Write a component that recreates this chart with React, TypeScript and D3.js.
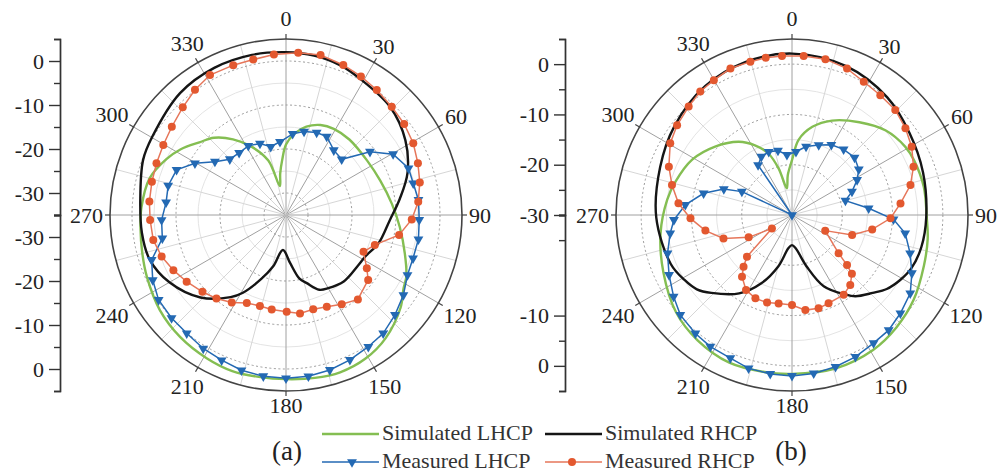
import React, { useEffect, useRef } from "react";
import * as d3 from "d3";

// [angle (deg, clockwise from top), gain (dB)]
// ---- panel (a) ----
const simLhcpA: [number, number][] = [
  [0, -19.0], [6, -16.4], [13, -14.4], [21, -13.1], [29, -12.6], [40, -12.6], [56, -12.8],
  [70, -12.2], [84, -10.8], [96, -9.0], [108, -6.6], [117, -4.3], [122, -3.5], [129, -1.5],
  [141, 1.0], [151, 2.3], [161, 2.8], [170, 2.6], [180, 2.3], [189, 2.3], [199, 2.5],
  [209, 2.2], [221, 1.7], [233, 0.9], [246, -0.4], [255, -1.2], [265, -1.8], [273, -2.1],
  [285, -2.9], [295, -5.0], [302, -6.8], [310, -9.3], [317, -11.0], [325, -14.0],
  [333, -17.5], [342, -22.0], [348, -28.3], [352, -25.5], [356, -22.5],
];
const simRhcpA: [number, number][] = [
  [0, 2.0], [10, 1.8], [20, 1.2], [28, 0.3], [44, -0.9], [58, -3.0], [71, -5.8], [82, -8.9],
  [93, -11.4], [107, -13.0], [117, -14.6], [125, -15.0], [139, -15.0], [150, -15.8],
  [156, -16.4], [163, -18.8], [168, -20.2], [175, -24.0], [185, -27.0], [194, -23.0],
  [201, -19.5], [209, -14.8], [214, -12.5], [226, -8.0], [240, -4.4], [252, -2.4],
  [263, -2.0], [276, -1.7], [291, -0.2], [300, 0.2], [319, 1.7], [334, 2.2], [348, 2.2],
];
const measLhcpA: [number, number][] = [
  [4.7, -16.5], [12.2, -15.6], [20.4, -15.0], [27.4, -14.9], [36.4, -16.7], [45, -17.1],
  [53, -11.1], [60.4, -7.0], [69.1, -5.2], [76, -5.2], [83.5, -4.7], [92.1, -4.7],
  [100.4, -4.4], [108.8, -4.5], [116.3, -4.2], [124.3, -2.7], [132.5, -1.4], [140.6, -0.2],
  [148, 0.3], [156.2, 1.0], [164.2, 1.6], [172.1, 2.0], [180, 2.1], [188, 2.0], [196, 1.7],
  [203.9, 1.1], [211.8, 0.7], [220, 0.1], [228, 0.0], [236.3, -0.2], [244, -1.3],
  [251.5, -2.8], [259.3, -6.4], [267.7, -6.7], [276, -7.6], [284, -7.4], [292.4, -8.1],
  [299.6, -11.2], [306.9, -14.8], [314.8, -17.0], [323, -17.3], [331.4, -17.1], [340, -17.7],
  [347.4, -19.1], [355.3, -18.3],
];
const measRhcpA: [number, number][] = [
  [4.3, 2.0], [12.2, 2.2], [20.9, 1.5], [28.4, 0.8], [36, 0.1], [44.3, -0.6], [52.4, -1.1],
  [60.6, -1.8], [68.6, -2.8], [76.3, -3.7], [84.3, -4.8], [92, -6.4], [100, -8.9],
  [108.6, -13.7], [115.4, -15.5], [123.4, -13.0], [128.3, -11.2], [139.6, -9.8], [148, -11.1],
  [156, -12.2], [163.9, -12.7], [171.9, -12.4], [179.6, -13.0], [188.6, -13.3], [196, -13.5],
  [204, -13.1], [211.8, -11.6], [219.8, -10.3], [227.4, -9.2], [236.1, -7.8], [243.9, -6.5],
  [251.5, -5.2], [259.3, -4.3], [267.9, -4.1], [275.6, -3.8], [283.9, -3.6], [291.8, -3.3],
  [299.7, -2.9], [307.7, -2.2], [316.2, -1.1], [324, 0.2], [331.5, 1.2], [340.6, 1.1],
  [348.1, 1.1], [355.7, 1.6],
];

// ---- panel (b) ----
const simLhcpB: [number, number][] = [
  [0, -19.1], [5, -15.0], [13, -12.0], [23, -9.6], [36, -7.2], [48, -4.9], [59, -3.7],
  [66, -3.4], [78, -3.2], [91, -3.2], [100, -2.6], [111, -1.9], [125, -0.5], [137, 0.5],
  [149, 1.3], [164, 1.7], [180, 1.6], [190, 1.7], [203, 1.9], [217, 1.2], [230, 0.1],
  [246, -2.0], [262, -3.6], [277, -5.0], [286, -5.9], [299, -7.3], [312, -9.6], [324, -12.0],
  [332, -14.3], [339, -16.9], [344, -20.4], [349, -24.6], [354, -22.0],
];
const simRhcpB: [number, number][] = [
  [0, 2.1], [20, 1.5], [39, 0.1], [55, -1.5], [72, -2.6], [91, -3.3], [104, -3.5],
  [114, -4.0], [121, -4.9], [128, -6.1], [134, -7.7], [142, -9.5], [146, -10.9],
  [156, -14.5], [164, -19.3], [174, -23.4], [180, -24.0], [186, -23.4], [195, -19.4],
  [204, -15.2], [214, -11.2], [226, -7.7], [232, -6.0], [239, -5.0], [248, -4.0],
  [269, -3.0], [290, -2.1], [307, -0.7], [326, 0.9], [343, 1.8],
];
const measLhcpB: [number, number][] = [
  [3.6, -17.4], [11.6, -16.1], [20.9, -15.1], [29.3, -14.0], [38.2, -13.4], [47.4, -13.1],
  [55.6, -13.9], [61.7, -15.3], [68.7, -17.2], [75, -19.0], [85, -14.7], [92.4, -9.8],
  [99.2, -7.2], [108, -5.3], [115.9, -3.5], [123.5, -1.8], [132.2, -0.9], [140, -0.1],
  [147.5, 0.2], [155.9, 0.9], [164, 1.4], [172.2, 1.8], [180, 2.0], [187.8, 1.9],
  [195.8, 1.7], [203.3, 1.0], [211.8, 0.8], [219.2, 0.4], [228.2, -0.2], [235.4, -1.4],
  [244, -2.8], [252.9, -4.1], [261.4, -5.5], [267.6, -6.5], [275.4, -8.7], [283.8, -11.9],
  [290.8, -15.5], [295, -19.0], [305, -30], [325.8, -18.0], [332.3, -16.9], [339.8, -16.6],
  [347.7, -16.9], [355.2, -18.0],
];
const measRhcpB: [number, number][] = [
  [4.2, 1.7], [12.1, 1.7], [20.6, 1.1], [28.3, 0.1], [36.4, -0.4], [44.5, -0.7], [52.6, -1.6],
  [60.3, -2.6], [68.3, -4.0], [75.8, -5.7], [83.9, -8.3], [91.9, -10.4], [100.2, -13.8],
  [108.4, -17.4], [115.2, -22.7], [129.4, -18.0], [132.3, -15.2], [134.5, -13.3],
  [140.2, -11.9], [147.1, -11.1], [157.5, -11.0], [164.1, -10.7], [172, -10.9], [180, -12.1],
  [188.6, -12.2], [195.9, -11.9], [203.7, -11.9], [211.5, -12.5], [219, -14.2],
  [223.1, -15.9], [227.2, -17.8], [236.3, -25.2], [242.7, -20.3], [251.1, -15.6],
  [259.8, -12.5], [268.1, -9.8], [275.9, -7.3], [284, -5.4], [291.4, -3.7], [300.5, -1.9],
  [308, -1.0], [316.4, -0.2], [323.4, 0.6], [329.9, 1.0], [337.2, 1.6], [344.8, 1.6],
  [350.5, 1.7], [356.4, 1.7],
];

const angleLabels = d3.range(0, 360, 30);
const legendItems = [
  { label: "Simulated LHCP", key: "simL", marker: "none" },
  { label: "Simulated RHCP", key: "simR", marker: "none" },
  { label: "Measured LHCP", key: "measL", marker: "tri" },
  { label: "Measured RHCP", key: "measR", marker: "dot" },
];

const W = 997;
const H = 473;
const RAD = 176;
const FONT = '"Liberation Serif", "DejaVu Serif", Tinos, "Times New Roman", Times, serif';
const COL: any = { simL: "#84be52", simR: "#151515", measL: "#2369b3", measR: "#e3582f", measRLine: "#e6765a" };
const LW: any = { simL: 2.4, simR: 2.4, measL: 1.5, measR: 1.5 };

const panels = [
  {
    cx: 286, cy: 215, min: -35, axisX: 60, label: "(a)", labelX: 287,
    majorRings: [-30, -20, -10, 0], minorRings: [-25, -15, -5],
    topMajor: [0, -10, -20, -30], topMinor: [-5, -15, -25, -35],
    botMajor: [0, -10, -20, -30], botMinor: [-5, -15, -25],
    simL: simLhcpA, simR: simRhcpA, measL: measLhcpA, measR: measRhcpA,
  },
  {
    cx: 792, cy: 215, min: -30, axisX: 565, label: "(b)", labelX: 791,
    majorRings: [-20, -10, 0], minorRings: [-25, -15, -5],
    topMajor: [0, -10, -20, -30], topMinor: [-5, -15, -25],
    botMajor: [0, -10], botMinor: [-5, -25],
    simL: simLhcpB, simR: simRhcpB, measL: measLhcpB, measR: measRhcpB,
  },
];

const App = () => {
  const svgRef = useRef(null);

  useEffect(() => {
    const svg = d3.select(svgRef.current);
    svg.selectAll("*").remove();
    const rad = (a: number) => (a * Math.PI) / 180;

    panels.forEach((p) => {
      const r = d3.scaleLinear().domain([p.min, 5]).range([0, RAD]).clamp(true);
      const g = svg.append("g").attr("transform", `translate(${p.cx},${p.cy})`);

      // grid
      g.selectAll(".minring")
        .data(p.minorRings)
        .join("circle")
        .attr("r", (d) => r(d))
        .attr("fill", "none")
        .attr("stroke", "#e4e4e4")
        .attr("stroke-width", 1);

      g.selectAll(".spoke")
        .data(d3.range(0, 360, 15))
        .join("line")
        .attr("x1", 0)
        .attr("y1", 0)
        .attr("x2", (d) => RAD * Math.sin(rad(d)))
        .attr("y2", (d) => -RAD * Math.cos(rad(d)))
        .attr("stroke", (d) => (d % 30 === 0 ? "#a0a0a0" : "#d6d6d6"))
        .attr("stroke-width", 1);

      g.selectAll(".majring")
        .data(p.majorRings)
        .join("circle")
        .attr("r", (d) => r(d))
        .attr("fill", "none")
        .attr("stroke", "#9a9a9a")
        .attr("stroke-width", 1)
        .attr("stroke-dasharray", "2,2.5");

      g.append("circle")
        .attr("r", RAD)
        .attr("fill", "none")
        .attr("stroke", "#444")
        .attr("stroke-width", 1.6);

      g.selectAll(".atick")
        .data(angleLabels)
        .join("line")
        .attr("x1", (d) => RAD * Math.sin(rad(d)))
        .attr("y1", (d) => -RAD * Math.cos(rad(d)))
        .attr("x2", (d) => (RAD + 5) * Math.sin(rad(d)))
        .attr("y2", (d) => -(RAD + 5) * Math.cos(rad(d)))
        .attr("stroke", "#444")
        .attr("stroke-width", 1.2);

      const labels = g.selectAll(".alabel")
        .data(angleLabels)
        .join("text")
        .attr("text-anchor", "middle")
        .attr("dominant-baseline", "central")
        .attr("font-family", FONT)
        .attr("font-size", 22)
        .attr("fill", "#222")
        .text((d) => d);
      // keep each label just outside the ring, measured from its own box
      labels.each(function (d) {
        const node = this as SVGTextElement;
        const w = node.getComputedTextLength ? node.getComputedTextLength() : 22;
        const s = Math.sin(rad(d));
        const c = Math.cos(rad(d));
        let rr = 183 + (w / 2) * Math.abs(s) + 7.5 * Math.abs(c);
        if (d === 0) rr += 6;
        d3.select(node).attr("x", rr * s).attr("y", -rr * c);
      });

      // curves
      const smooth = d3
        .lineRadial<[number, number]>()
        .angle((d) => rad(d[0]))
        .radius((d) => r(d[1]))
        .curve(d3.curveCatmullRomClosed.alpha(0.5));
      const straight = d3
        .lineRadial<[number, number]>()
        .angle((d) => rad(d[0]))
        .radius((d) => r(d[1]))
        .curve(d3.curveLinearClosed);

      g.append("path").datum(p.simL).attr("d", smooth).attr("fill", "none")
        .attr("stroke", COL.simL).attr("stroke-width", LW.simL);
      g.append("path").datum(p.simR).attr("d", smooth).attr("fill", "none")
        .attr("stroke", COL.simR).attr("stroke-width", LW.simR);

      g.append("path").datum(p.measL).attr("d", straight).attr("fill", "none")
        .attr("stroke", COL.measL).attr("stroke-width", LW.measL);
      g.selectAll(".tri")
        .data(p.measL)
        .join("path")
        .attr("d", d3.symbol(d3.symbolTriangle, 42))
        .attr("transform", (d) => {
          const rr = r(d[1]);
          return `translate(${rr * Math.sin(rad(d[0]))},${-rr * Math.cos(rad(d[0]))}) rotate(180)`;
        })
        .attr("fill", COL.measL);

      g.append("path").datum(p.measR).attr("d", straight).attr("fill", "none")
        .attr("stroke", COL.measRLine).attr("stroke-width", LW.measR);
      g.selectAll(".dot")
        .data(p.measR)
        .join("circle")
        .attr("cx", (d) => r(d[1]) * Math.sin(rad(d[0])))
        .attr("cy", (d) => -r(d[1]) * Math.cos(rad(d[0])))
        .attr("r", 4)
        .attr("fill", COL.measR);

      // mirrored dB axis on the left
      const yTop = d3.scaleLinear().domain([p.min, 5]).range([p.cy, p.cy - RAD]);
      const yBot = d3.scaleLinear().domain([p.min, 5]).range([p.cy, p.cy + RAD]);
      const styleAxis = (sel: any) => {
        sel.attr("font-family", FONT).attr("font-size", 22).attr("color", "#333");
        sel.select(".domain").attr("stroke-width", 1.4);
        sel.selectAll("line").attr("stroke-width", 1.4);
        sel.selectAll("text").attr("fill", "#222");
      };
      [
        [yTop, p.topMajor, p.topMinor],
        [yBot, p.botMajor, p.botMinor],
      ].forEach(([y, major, minor]: any) => {
        svg.append("g")
          .attr("transform", `translate(${p.axisX},0)`)
          .call(d3.axisLeft(y).tickValues(minor).tickSize(6).tickSizeOuter(6).tickFormat(() => ""))
          .call(styleAxis);
        svg.append("g")
          .attr("transform", `translate(${p.axisX},0)`)
          .call(d3.axisLeft(y).tickValues(major).tickSize(11).tickSizeOuter(6).tickPadding(5)
            .tickFormat((d: any) => String(d)))
          .call(styleAxis);
      });

      svg.append("text")
        .attr("x", p.labelX)
        .attr("y", 460)
        .attr("text-anchor", "middle")
        .attr("font-family", FONT)
        .attr("font-size", 27)
        .attr("fill", "#222")
        .text(p.label);
    });

    // legend
    const cols = [322, 545];
    const rows = [434, 462];
    legendItems.forEach((item, i) => {
      const x0 = cols[i % 2];
      const y0 = rows[Math.floor(i / 2)];
      const lg = svg.append("g").attr("transform", `translate(${x0},${y0})`);
      lg.append("line").attr("x1", 0).attr("x2", 57).attr("y1", 0).attr("y2", 0)
        .attr("stroke", item.key === "measR" ? COL.measRLine : COL[item.key])
        .attr("stroke-width", LW[item.key]);
      if (item.marker === "tri") {
        lg.append("path").attr("d", d3.symbol(d3.symbolTriangle, 42))
          .attr("transform", "translate(30,0) rotate(180)").attr("fill", COL[item.key]);
      }
      if (item.marker === "dot") {
        lg.append("circle").attr("cx", 27).attr("cy", 0).attr("r", 4).attr("fill", COL[item.key]);
      }
      lg.append("text")
        .attr("x", 60)
        .attr("y", 6)
        .attr("font-family", FONT)
        .attr("font-size", 22)
        .attr("fill", "#333")
        .text(item.label);
    });
  }, []);

  return (
    <div style={{ position: "absolute", left: 0, top: 0 }}>
      <svg ref={svgRef} width={W} height={H} style={{ display: "block", background: "#fff" }}></svg>
    </div>
  );
};

export default App;
